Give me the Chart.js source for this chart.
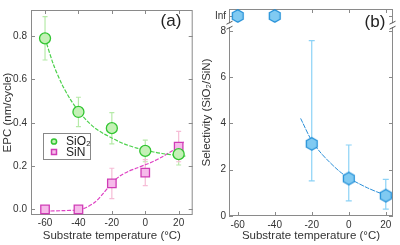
<!DOCTYPE html>
<html>
<head>
<meta charset="utf-8">
<script src="https://cdn.jsdelivr.net/npm/chart.js@4"></script>
<style>
  html, body { margin: 0; padding: 0; background: #fff; }
  #wrap { position: relative; width: 400px; height: 245px; }
  .panel { position: absolute; top: 0; width: 200px; height: 245px; }
</style>
</head>
<body>
<div id="wrap">
  <div class="panel" style="left:0"><canvas id="chartA" width="200" height="245"></canvas></div>
  <div class="panel" style="left:200px"><canvas id="chartB" width="200" height="245"></canvas></div>
</div>
<script>
// measured points (panel a)
const temps = [-60, -40, -20, 0, 20];
const sio2Epc = [0.79, 0.45, 0.375, 0.27, 0.255];
const sio2Err = [0.10, 0.068, 0.072, 0.05, 0.05];
const sinEpc = [0.0, 0.0, 0.12, 0.17, 0.29];
const sinErr = [0, 0, 0.07, 0.06, 0.07];

// fitted curves (panel a)
const sio2FitX = [-60, -55, -50, -45, -40, -35, -30, -25, -20, -15, -10, -5, 0, 5, 10, 15, 20, 24];
const sio2FitY = [0.79, 0.67, 0.58, 0.51, 0.455, 0.41, 0.375, 0.35, 0.33, 0.31, 0.295, 0.283, 0.273, 0.265, 0.258, 0.253, 0.249, 0.246];
const sinFitX = [-60, -50, -40, -35, -30, -25, -20, -15, -10, -5, 0, 5, 10, 15, 20, 23];
const sinFitY = [-0.008, -0.006, -0.002, 0.01, 0.034, 0.075, 0.122, 0.155, 0.176, 0.191, 0.206, 0.222, 0.242, 0.265, 0.29, 0.312];

// selectivity (panel b)
const selTemps = [-20, 0, 20];
const selValue = [3.12, 1.62, 0.88];
const selLow = [1.52, 0.65, 0.3];
const selHigh = [7.58, 3.07, 1.58];
const infTemps = [-60, -40];
const INF_POS = 8.65;
const selFitX = [-26, -20, -15, -10, -5, 0, 5, 10, 15, 20, 23.5];
const selFitY = [4.22, 3.25, 2.72, 2.3, 1.93, 1.64, 1.42, 1.22, 1.05, 0.9, 0.8];

// tick labels
const xTicks = [-60, -40, -20, 0, 20];
const epcTicks = [0, 0.2, 0.4, 0.6, 0.8];
const selTicks = [0, 2, 4, 6, 8, INF_POS];

const FONT = "'Liberation Sans', Arial, Helvetica, sans-serif";
const TXT = '#333';
const FRAME = '#8a8a8a';

function pts(xs, ys) {
  return xs.map((x, i) => ({ x: x, y: ys[i] }));
}

function hexagon(r, fill, stroke) {
  const c = document.createElement('canvas');
  const s = Math.ceil(r * 2 + 3);
  c.width = s; c.height = s;
  const g = c.getContext('2d');
  g.beginPath();
  for (let i = 0; i < 6; i++) {
    const a = Math.PI / 2 + i * Math.PI / 3;
    const px = s / 2 + r * Math.cos(a), py = s / 2 + r * Math.sin(a);
    if (i === 0) g.moveTo(px, py); else g.lineTo(px, py);
  }
  g.closePath();
  g.fillStyle = fill; g.fill();
  g.lineWidth = 1.2; g.strokeStyle = stroke; g.stroke();
  return c;
}

// error bars, frame, inward ticks
const decor = {
  id: 'decor',
  beforeDatasetsDraw(chart) {
    const { ctx, chartArea: a, scales: { x, y } } = chart;
    ctx.save();
    // frame
    ctx.strokeStyle = FRAME;
    ctx.lineWidth = 1;
    ctx.strokeRect(a.left + 0.5, a.top + 0.5, a.right - a.left - 1, a.bottom - a.top - 1);
    ctx.beginPath();
    x.ticks.forEach(t => {
      const p = Math.round(x.getPixelForValue(t.value)) + 0.5;
      ctx.moveTo(p, a.bottom); ctx.lineTo(p, a.bottom - 4);
      ctx.moveTo(p, a.top); ctx.lineTo(p, a.top + 4);
    });
    y.ticks.forEach(t => {
      const p = Math.round(y.getPixelForValue(t.value)) + 0.5;
      ctx.moveTo(a.left, p); ctx.lineTo(a.left + 4, p);
      ctx.moveTo(a.right, p); ctx.lineTo(a.right - 4, p);
    });
    ctx.stroke();
    // error bars
    chart.data.datasets.forEach(ds => {
      if (!ds.errLow) return;
      ctx.strokeStyle = ds.errColor;
      ctx.lineWidth = 1.2;
      ctx.beginPath();
      ds.data.forEach((d, i) => {
        if (ds.errHigh[i] === ds.errLow[i]) return;
        const px = x.getPixelForValue(d.x);
        const y1 = y.getPixelForValue(ds.errLow[i]);
        const y2 = y.getPixelForValue(ds.errHigh[i]);
        const cw = ds.capWidth;
        ctx.moveTo(px, y1); ctx.lineTo(px, y2);
        ctx.moveTo(px - cw, y1); ctx.lineTo(px + cw, y1);
        ctx.moveTo(px - cw, y2); ctx.lineTo(px + cw, y2);
      });
      ctx.stroke();
    });
    ctx.restore();
  },
  afterDatasetsDraw(chart, args, opts) {
    const { ctx, chartArea: a, scales: { y } } = chart;
    ctx.save();
    ctx.fillStyle = '#222';
    ctx.font = '17px ' + FONT;
    ctx.textAlign = 'center';
    ctx.textBaseline = 'middle';
    ctx.fillText(opts.label, opts.lx, opts.ly);
    if (opts.breakAt) {
      const py = y.getPixelForValue(opts.breakAt);
      [a.left + 0.5, a.right - 0.5].forEach(ex => {
        ctx.fillStyle = '#fff';
        ctx.fillRect(ex - 1, py - 2, 2, 4);
        ctx.strokeStyle = '#555';
        ctx.lineWidth = 1;
        ctx.beginPath();
        ctx.moveTo(ex - 3, py - 1); ctx.lineTo(ex + 3, py - 4);
        ctx.moveTo(ex - 3, py + 4); ctx.lineTo(ex + 3, py + 1);
        ctx.stroke();
      });
    }
    if (opts.legend) {
      const L = opts.legend;
      ctx.strokeStyle = '#888';
      ctx.lineWidth = 1;
      ctx.fillStyle = '#fff';
      ctx.fillRect(L.x, L.y, L.w, L.h);
      ctx.strokeRect(L.x + 0.5, L.y + 0.5, L.w, L.h);
      ctx.font = '12px ' + FONT;
      ctx.textAlign = 'left';
      L.items.forEach((it, i) => {
        const cy = L.y + 8.5 + i * 10.5;
        ctx.fillStyle = it.fill;
        ctx.strokeStyle = it.stroke;
        ctx.lineWidth = 1.5;
        ctx.beginPath();
        if (it.shape === 'circle') ctx.arc(L.x + 11, cy, 2.6, 0, Math.PI * 2);
        else ctx.rect(L.x + 8.5, cy - 2.5, 5, 5);
        ctx.fill(); ctx.stroke();
        ctx.fillStyle = '#222';
        ctx.fillText(it.text, L.x + 23, cy + 0.5);
      });
    }
    ctx.restore();
  }
};

function setTicks(vals) {
  return s => { s.ticks = vals.map(v => ({ value: v })); };
}

const green = { line: '#4bd14b', fill: '#c4f1b6', stroke: '#32c532', err: '#b6eaa8' };
const pink = { line: '#df42c4', fill: '#f6bbea', stroke: '#d03cb6', err: '#f6bcd6' };
const blue = { line: '#2b8fd8', fill: '#80caf2', stroke: '#1c8cd6', err: '#8cd2f6' };

new Chart(document.getElementById('chartA'), {
  type: 'scatter',
  data: {
    datasets: [
      {
        label: 'SiO₂', data: pts(temps, sio2Epc),
        pointStyle: 'circle', pointRadius: 5.5, pointBackgroundColor: green.fill,
        pointBorderColor: green.stroke, pointBorderWidth: 1.3,
        errLow: sio2Epc.map((v, i) => v - sio2Err[i]), errHigh: sio2Epc.map((v, i) => v + sio2Err[i]),
        errColor: green.err, capWidth: 2.5
      },
      {
        label: 'SiN', data: pts(temps, sinEpc),
        pointStyle: 'rect', pointRadius: 6, pointBackgroundColor: pink.fill,
        pointBorderColor: pink.stroke, pointBorderWidth: 1.3,
        errLow: sinEpc.map((v, i) => v - sinErr[i]), errHigh: sinEpc.map((v, i) => v + sinErr[i]),
        errColor: pink.err, capWidth: 2.5
      },
      {
        type: 'line', data: pts(sio2FitX, sio2FitY), borderColor: green.line,
        borderWidth: 1.2, borderDash: [4, 1.5], pointRadius: 0, fill: false, tension: 0.3
      },
      {
        type: 'line', data: pts(sinFitX, sinFitY), borderColor: pink.line,
        borderWidth: 1.2, borderDash: [4, 1.5], pointRadius: 0, fill: false, tension: 0.3
      }
    ]
  },
  options: {
    responsive: false, animation: false,
    layout: { padding: { top: 4, right: 7, left: 0, bottom: 0 } },
    plugins: {
      legend: { display: false }, tooltip: { enabled: false },
      decor: {
        label: '(a)', lx: 171, ly: 21,
        legend: {
          x: 43, y: 133, w: 47, h: 26,
          items: [
            { text: 'SiO₂', shape: 'circle', fill: green.fill, stroke: green.stroke },
            { text: 'SiN', shape: 'rect', fill: pink.fill, stroke: pink.stroke }
          ]
        }
      }
    },
    scales: {
      x: {
        type: 'linear', min: -68.4, max: 28.4,
        afterBuildTicks: setTicks(xTicks),
        afterFit: s => { s.height = 30; },
        grid: { display: false, drawTicks: false }, border: { display: false },
        ticks: { color: TXT, font: { family: FONT, size: 10 }, padding: 2 },
        title: { display: true, text: 'Substrate temperature (°C)', color: TXT,
                 font: { family: FONT, size: 11.5 }, padding: { top: 0, bottom: 2 } }
      },
      y: {
        min: -0.026, max: 0.921,
        afterBuildTicks: setTicks(epcTicks),
        afterFit: s => { s.width = 31; },
        grid: { display: false, drawTicks: false }, border: { display: false },
        ticks: { color: TXT, font: { family: FONT, size: 10 }, padding: 4,
                 callback: v => v.toFixed(1) },
        title: { display: true, text: 'EPC (nm/cycle)', color: TXT,
                 font: { family: FONT, size: 11.5 }, padding: { top: 1, bottom: 0 } }
      }
    }
  },
  plugins: [decor]
});

new Chart(document.getElementById('chartB'), {
  type: 'scatter',
  data: {
    datasets: [
      {
        data: pts(selTemps, selValue),
        pointStyle: hexagon(6.3, blue.fill, blue.stroke), pointRadius: 6,
        errLow: selLow, errHigh: selHigh, errColor: blue.err, capWidth: 3
      },
      {
        data: pts(infTemps, infTemps.map(() => INF_POS)),
        pointStyle: hexagon(6.3, blue.fill, blue.stroke), pointRadius: 6
      },
      {
        type: 'line', data: pts(selFitX, selFitY), borderColor: blue.line,
        borderWidth: 1, borderDash: [5, 1], pointRadius: 0, fill: false, tension: 0.3
      }
    ]
  },
  options: {
    responsive: false, animation: false,
    layout: { padding: { top: 4, right: 6, left: 0, bottom: 0 } },
    plugins: {
      legend: { display: false }, tooltip: { enabled: false },
      decor: { label: '(b)', lx: 175, ly: 22, breakAt: 8.25 }
    },
    scales: {
      x: {
        type: 'linear', min: -64.7, max: 23.9,
        afterBuildTicks: setTicks(xTicks),
        afterFit: s => { s.height = 29; },
        grid: { display: false, drawTicks: false }, border: { display: false },
        ticks: { color: TXT, font: { family: FONT, size: 10 }, padding: 3 },
        title: { display: true, text: 'Substrate temperature (°C)', color: TXT,
                 font: { family: FONT, size: 11.5 }, padding: { top: 0, bottom: 2 } }
      },
      y: {
        min: 0, max: 8.95,
        afterBuildTicks: setTicks(selTicks),
        afterFit: s => { s.width = 29; },
        grid: { display: false, drawTicks: false }, border: { display: false },
        ticks: { color: TXT, font: { family: FONT, size: 10 }, padding: 3,
                 callback: v => v === INF_POS ? 'Inf' : String(v) },
        title: { display: true, text: 'Selectivity (SiO₂/SiN)', color: TXT,
                 font: { family: FONT, size: 11.5 }, padding: { top: 0, bottom: 0 } }
      }
    }
  },
  plugins: [decor]
});
</script>
</body>
</html>
